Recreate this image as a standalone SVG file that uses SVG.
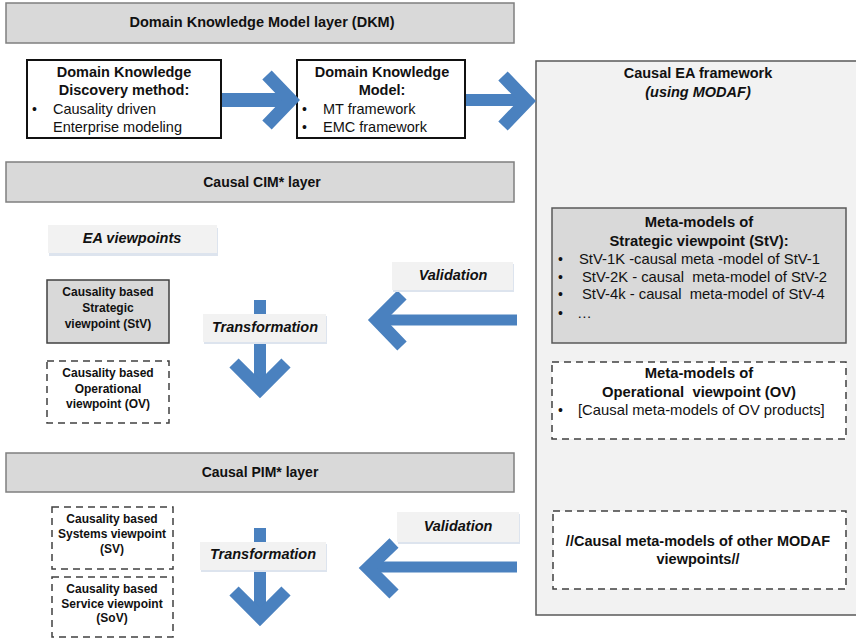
<svg xmlns="http://www.w3.org/2000/svg" width="856" height="638" viewBox="0 0 856 638">
<style>
text{font-family:"Liberation Sans",Arial,sans-serif;fill:#111;}
.b{font-weight:bold;}
.bi{font-weight:bold;font-style:italic;}
.c{text-anchor:middle;}
.layer{fill:#d9d9d9;stroke:#7f7f7f;stroke-width:1.5;}
.panel{fill:#f2f2f2;stroke:#595959;stroke-width:1.5;}
.solid{fill:#fff;stroke:#111;stroke-width:2;}
.grey{fill:#d9d9d9;stroke:#404040;stroke-width:1.5;}
.dash{fill:#fff;stroke:#404040;stroke-width:1.5;stroke-dasharray:7,5;}
.lbl{fill:#f2f2f2;stroke:none;}
.lblsh{fill:#dde4ee;stroke:none;}
.arr{fill:none;stroke:#4a81bf;stroke-width:13;stroke-linejoin:miter;}
.shaft{fill:none;stroke:#4a81bf;}
</style>
<rect width="856" height="638" fill="#fff"/>

<g id="panel-ea">
<rect class="panel" x="536" y="61" width="330" height="554"/>
<text class="b c" x="698" y="78" font-size="14.5">Causal EA framework</text>
<text class="bi c" x="698" y="97" font-size="14.5">(using MODAF)</text>
</g>

<g id="layer-dkm">
<rect class="layer" x="6" y="3" width="508" height="40"/>
<text class="b c" x="262" y="27" font-size="14.5">Domain Knowledge Model layer (DKM)</text>
</g>

<g id="dk-method">
<rect class="solid" x="27" y="60" width="194" height="78"/>
<text class="b c" x="124" y="77" font-size="14.5">Domain Knowledge</text>
<text class="b c" x="124" y="95" font-size="14.5">Discovery method:</text>
<text x="32" y="114" font-size="14">•</text>
<text x="53" y="114" font-size="14.5">Causality driven</text>
<text x="53" y="132" font-size="14.5">Enterprise modeling</text>
</g>

<g id="dk-model">
<rect class="solid" x="297" y="60" width="168" height="78"/>
<text class="b c" x="382" y="77" font-size="14.5">Domain Knowledge</text>
<text class="b c" x="382" y="95" font-size="14.5">Model:</text>
<text x="302" y="114" font-size="14">•</text>
<text x="323" y="114" font-size="14.5">MT framework</text>
<text x="302" y="132" font-size="14">•</text>
<text x="323" y="132" font-size="14.5">EMC framework</text>
</g>

<g id="layer-cim">
<rect class="layer" x="6" y="162" width="508" height="40"/>
<text class="b c" x="262" y="187" font-size="14">Causal CIM* layer</text>
</g>

<g id="ea-viewpoints">
<rect class="lblsh" x="49" y="228" width="169" height="28"/>
<rect class="lbl" x="48" y="225" width="169" height="28"/>
<text class="bi c" x="132" y="243" font-size="14.5">EA viewpoints</text>
</g>

<g id="stv">
<rect class="grey" x="47" y="280" width="122" height="63"/>
<text class="b c" x="108" y="296" font-size="12">Causality based</text>
<text class="b c" x="108" y="312" font-size="12">Strategic</text>
<text class="b c" x="108" y="328" font-size="12">viewpoint (StV)</text>
</g>

<g id="ov">
<rect class="dash" x="47" y="361" width="122" height="62"/>
<text class="b c" x="108" y="377" font-size="12">Causality based</text>
<text class="b c" x="108" y="393" font-size="12">Operational</text>
<text class="b c" x="108" y="408" font-size="12">viewpoint (OV)</text>
</g>

<g id="meta-stv">
<rect class="grey" x="552" y="208" width="294" height="135" style="stroke:#595959"/>
<text class="b c" x="699" y="227" font-size="14.8">Meta-models of</text>
<text class="b c" x="699" y="246" font-size="14.8">Strategic viewpoint (StV):</text>
<text x="558" y="264" font-size="14">•</text>
<text x="579" y="264" font-size="14.8">StV-1K -causal meta -model of StV-1</text>
<text x="558" y="282" font-size="14">•</text>
<text x="582" y="282" font-size="14.8" xml:space="preserve">StV-2K - causal  meta-model of StV-2</text>
<text x="558" y="299" font-size="14">•</text>
<text x="582" y="299" font-size="14.8" xml:space="preserve">StV-4k - causal  meta-model of StV-4</text>
<text x="558" y="318" font-size="14">•</text>
<text x="577" y="318" font-size="14.8">…</text>
</g>

<g id="meta-ov">
<rect class="dash" x="552" y="362" width="294" height="77"/>
<text class="b c" x="699" y="378" font-size="14.8">Meta-models of</text>
<text class="b c" x="699" y="397" font-size="14.8" xml:space="preserve">Operational  viewpoint (OV)</text>
<text x="558" y="415" font-size="14">•</text>
<text x="578" y="415" font-size="14.8">[Causal meta-models of OV products]</text>
</g>

<g id="layer-pim">
<rect class="layer" x="6" y="453" width="508" height="39"/>
<text class="b c" x="260" y="477" font-size="14">Causal PIM* layer</text>
</g>

<g id="sv">
<rect class="dash" x="52" y="507" width="121" height="62"/>
<text class="b c" x="112" y="523" font-size="12">Causality based</text>
<text class="b c" x="112" y="538" font-size="12">Systems viewpoint</text>
<text class="b c" x="112" y="553" font-size="12">(SV)</text>
</g>

<g id="sov">
<rect class="dash" x="52" y="577" width="121" height="60"/>
<text class="b c" x="112" y="593" font-size="12">Causality based</text>
<text class="b c" x="112" y="608" font-size="12">Service viewpoint</text>
<text class="b c" x="112" y="622" font-size="12">(SoV)</text>
</g>

<g id="meta-other">
<rect class="dash" x="553" y="511" width="293" height="78"/>
<text class="b c" x="698" y="546" font-size="14.5">//Causal meta-models of other MODAF</text>
<text class="b c" x="698" y="564" font-size="14.5">viewpoints//</text>
</g>

<g id="connectors">
<line class="shaft" x1="222" y1="100" x2="290" y2="100" stroke-width="14"/>
<polyline class="arr" points="267,75 291,100 267,125" stroke-width="14"/>
<line class="shaft" x1="466" y1="100" x2="528" y2="100" stroke-width="12"/>
<polyline class="arr" points="503,76 527,101 503,126"/>
<line class="shaft" x1="260" y1="300" x2="260" y2="388" stroke-width="12"/>
<polyline class="arr" points="234,363 260,389 286,363"/>
<line class="shaft" x1="517" y1="320" x2="376" y2="320" stroke-width="11"/>
<polyline class="arr" points="402,295 377,320 402,346"/>
<line class="shaft" x1="260" y1="528" x2="260" y2="616" stroke-width="12"/>
<polyline class="arr" points="234,591 260,617 286,591"/>
<line class="shaft" x1="517" y1="567" x2="368" y2="567" stroke-width="11"/>
<polyline class="arr" points="394,543 368,568 394,594"/>
</g>

<g id="label-transformation-cim">
<rect class="lblsh" x="204" y="316" width="123" height="28"/>
<rect class="lbl" x="203" y="314" width="123" height="28"/>
<text class="bi c" x="265" y="332" font-size="14.5">Transformation</text>
</g>
<g id="label-validation-cim">
<rect class="lblsh" x="393" y="264" width="121" height="28"/>
<rect class="lbl" x="392" y="262" width="121" height="28"/>
<text class="bi c" x="453" y="280" font-size="14.5">Validation</text>
</g>
<g id="label-transformation-pim">
<rect class="lblsh" x="201" y="544" width="126" height="28"/>
<rect class="lbl" x="200" y="542" width="126" height="28"/>
<text class="bi c" x="263" y="559" font-size="14.5">Transformation</text>
</g>
<g id="label-validation-pim">
<rect class="lblsh" x="398" y="514" width="122" height="30"/>
<rect class="lbl" x="397" y="512" width="122" height="30"/>
<text class="bi c" x="458" y="531" font-size="14.5">Validation</text>
</g>
</svg>
